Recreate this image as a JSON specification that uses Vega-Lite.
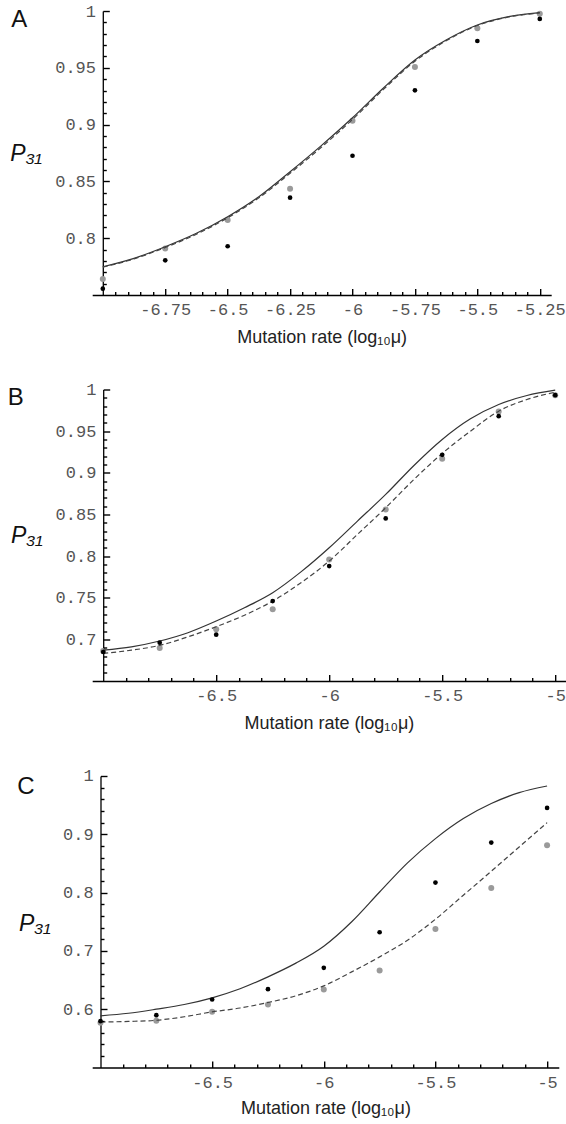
{
  "$schema": "https://vega.github.io/schema/vega-lite/v6.json",
  "padding": {"left": 7.2, "top": 2, "right": 0, "bottom": 0},
  "spacing": 94.5,
  "bounds": "flush",
  "config": {
    "view": {"stroke": null},
    "axis": {"grid": false, "domainColor": "#000", "domainWidth": 1.3, "tickColor": "#000", "tickWidth": 1.4, "labelFont": "Liberation Mono", "labelFontSize": 17, "labelColor": "#555", "labelOverlap": false, "labelFlush": false, "labelBound": false, "labelAngle": 0, "titleFont": "Liberation Sans", "titleFontWeight": "normal", "titleColor": "#222"},
    "title": {"anchor": "start", "frame": "group", "offset": 0, "baseline": "alphabetic", "fontSize": 24, "font": "Liberation Sans", "fontWeight": "normal", "color": "#111"}
  },
  "datasets": {
    "A": [
      {"s": "gray", "x": -7, "y": 0.764}, {"s": "gray", "x": -6.75, "y": 0.791}, {"s": "gray", "x": -6.5, "y": 0.816}, {"s": "gray", "x": -6.25, "y": 0.8436}, {"s": "gray", "x": -6, "y": 0.9034}, {"s": "gray", "x": -5.75, "y": 0.9507}, {"s": "gray", "x": -5.5, "y": 0.9848}, {"s": "gray", "x": -5.25, "y": 0.9976},
      {"s": "black", "x": -7, "y": 0.7556}, {"s": "black", "x": -6.75, "y": 0.7805}, {"s": "black", "x": -6.5, "y": 0.7929}, {"s": "black", "x": -6.25, "y": 0.8357}, {"s": "black", "x": -6, "y": 0.8726}, {"s": "black", "x": -5.75, "y": 0.9302}, {"s": "black", "x": -5.5, "y": 0.9736}, {"s": "black", "x": -5.25, "y": 0.993},
      {"s": "solid", "x": -7, "y": 0.7749}, {"s": "solid", "x": -6.875, "y": 0.7823}, {"s": "solid", "x": -6.75, "y": 0.7925}, {"s": "solid", "x": -6.625, "y": 0.8043}, {"s": "solid", "x": -6.5, "y": 0.8189}, {"s": "solid", "x": -6.375, "y": 0.8365}, {"s": "solid", "x": -6.25, "y": 0.8585}, {"s": "solid", "x": -6.125, "y": 0.8815}, {"s": "solid", "x": -6, "y": 0.906}, {"s": "solid", "x": -5.875, "y": 0.9325}, {"s": "solid", "x": -5.75, "y": 0.9569}, {"s": "solid", "x": -5.625, "y": 0.9745}, {"s": "solid", "x": -5.5, "y": 0.9877}, {"s": "solid", "x": -5.375, "y": 0.995}, {"s": "solid", "x": -5.25, "y": 0.9985},
      {"s": "dashed", "x": -7, "y": 0.7745}, {"s": "dashed", "x": -6.875, "y": 0.7818}, {"s": "dashed", "x": -6.75, "y": 0.7918}, {"s": "dashed", "x": -6.625, "y": 0.8035}, {"s": "dashed", "x": -6.5, "y": 0.818}, {"s": "dashed", "x": -6.375, "y": 0.8355}, {"s": "dashed", "x": -6.25, "y": 0.8572}, {"s": "dashed", "x": -6.125, "y": 0.88}, {"s": "dashed", "x": -6, "y": 0.9045}, {"s": "dashed", "x": -5.875, "y": 0.9312}, {"s": "dashed", "x": -5.75, "y": 0.9558}, {"s": "dashed", "x": -5.625, "y": 0.9738}, {"s": "dashed", "x": -5.5, "y": 0.9872}, {"s": "dashed", "x": -5.375, "y": 0.9947}, {"s": "dashed", "x": -5.25, "y": 0.9983}
    ],
    "B": [
      {"s": "gray", "x": -7, "y": 0.686}, {"s": "gray", "x": -6.75, "y": 0.6896}, {"s": "gray", "x": -6.5, "y": 0.712}, {"s": "gray", "x": -6.25, "y": 0.736}, {"s": "gray", "x": -6, "y": 0.796}, {"s": "gray", "x": -5.75, "y": 0.856}, {"s": "gray", "x": -5.5, "y": 0.9168}, {"s": "gray", "x": -5.25, "y": 0.9736}, {"s": "gray", "x": -5, "y": 0.9932},
      {"s": "black", "x": -7, "y": 0.6848}, {"s": "black", "x": -6.75, "y": 0.696}, {"s": "black", "x": -6.5, "y": 0.7056}, {"s": "black", "x": -6.25, "y": 0.746}, {"s": "black", "x": -6, "y": 0.788}, {"s": "black", "x": -5.75, "y": 0.8452}, {"s": "black", "x": -5.5, "y": 0.9216}, {"s": "black", "x": -5.25, "y": 0.968}, {"s": "black", "x": -5, "y": 0.9932},
      {"s": "solid", "x": -7, "y": 0.687}, {"s": "solid", "x": -6.875, "y": 0.691}, {"s": "solid", "x": -6.75, "y": 0.698}, {"s": "solid", "x": -6.625, "y": 0.708}, {"s": "solid", "x": -6.5, "y": 0.722}, {"s": "solid", "x": -6.375, "y": 0.738}, {"s": "solid", "x": -6.25, "y": 0.756}, {"s": "solid", "x": -6.125, "y": 0.781}, {"s": "solid", "x": -6, "y": 0.81}, {"s": "solid", "x": -5.875, "y": 0.842}, {"s": "solid", "x": -5.75, "y": 0.874}, {"s": "solid", "x": -5.625, "y": 0.9088}, {"s": "solid", "x": -5.5, "y": 0.94}, {"s": "solid", "x": -5.375, "y": 0.9648}, {"s": "solid", "x": -5.25, "y": 0.982}, {"s": "solid", "x": -5.125, "y": 0.9928}, {"s": "solid", "x": -5, "y": 0.9992},
      {"s": "dashed", "x": -7, "y": 0.6832}, {"s": "dashed", "x": -6.875, "y": 0.687}, {"s": "dashed", "x": -6.75, "y": 0.6928}, {"s": "dashed", "x": -6.625, "y": 0.703}, {"s": "dashed", "x": -6.5, "y": 0.7152}, {"s": "dashed", "x": -6.375, "y": 0.729}, {"s": "dashed", "x": -6.25, "y": 0.746}, {"s": "dashed", "x": -6.125, "y": 0.768}, {"s": "dashed", "x": -6, "y": 0.794}, {"s": "dashed", "x": -5.875, "y": 0.826}, {"s": "dashed", "x": -5.75, "y": 0.858}, {"s": "dashed", "x": -5.625, "y": 0.892}, {"s": "dashed", "x": -5.5, "y": 0.9232}, {"s": "dashed", "x": -5.375, "y": 0.95}, {"s": "dashed", "x": -5.25, "y": 0.974}, {"s": "dashed", "x": -5.125, "y": 0.988}, {"s": "dashed", "x": -5, "y": 0.9968}
    ],
    "C": [
      {"s": "gray", "x": -7, "y": 0.5766}, {"s": "gray", "x": -6.75, "y": 0.58}, {"s": "gray", "x": -6.5, "y": 0.5954}, {"s": "gray", "x": -6.25, "y": 0.608}, {"s": "gray", "x": -6, "y": 0.6338}, {"s": "gray", "x": -5.75, "y": 0.6664}, {"s": "gray", "x": -5.5, "y": 0.7377}, {"s": "gray", "x": -5.25, "y": 0.808}, {"s": "gray", "x": -5, "y": 0.8812},
      {"s": "black", "x": -7, "y": 0.5795}, {"s": "black", "x": -6.75, "y": 0.5897}, {"s": "black", "x": -6.5, "y": 0.6166}, {"s": "black", "x": -6.25, "y": 0.6343}, {"s": "black", "x": -6, "y": 0.671}, {"s": "black", "x": -5.75, "y": 0.732}, {"s": "black", "x": -5.5, "y": 0.8172}, {"s": "black", "x": -5.25, "y": 0.8858}, {"s": "black", "x": -5, "y": 0.9452},
      {"s": "solid", "x": -7, "y": 0.5886}, {"s": "solid", "x": -6.875, "y": 0.593}, {"s": "solid", "x": -6.75, "y": 0.6}, {"s": "solid", "x": -6.625, "y": 0.608}, {"s": "solid", "x": -6.5, "y": 0.6195}, {"s": "solid", "x": -6.375, "y": 0.635}, {"s": "solid", "x": -6.25, "y": 0.6555}, {"s": "solid", "x": -6.125, "y": 0.679}, {"s": "solid", "x": -6, "y": 0.708}, {"s": "solid", "x": -5.875, "y": 0.75}, {"s": "solid", "x": -5.75, "y": 0.801}, {"s": "solid", "x": -5.625, "y": 0.851}, {"s": "solid", "x": -5.5, "y": 0.8926}, {"s": "solid", "x": -5.375, "y": 0.927}, {"s": "solid", "x": -5.25, "y": 0.9527}, {"s": "solid", "x": -5.125, "y": 0.9715}, {"s": "solid", "x": -5, "y": 0.9829},
      {"s": "dashed", "x": -7, "y": 0.578}, {"s": "dashed", "x": -6.875, "y": 0.579}, {"s": "dashed", "x": -6.75, "y": 0.581}, {"s": "dashed", "x": -6.625, "y": 0.587}, {"s": "dashed", "x": -6.5, "y": 0.5954}, {"s": "dashed", "x": -6.375, "y": 0.602}, {"s": "dashed", "x": -6.25, "y": 0.6115}, {"s": "dashed", "x": -6.125, "y": 0.623}, {"s": "dashed", "x": -6, "y": 0.64}, {"s": "dashed", "x": -5.875, "y": 0.664}, {"s": "dashed", "x": -5.75, "y": 0.6897}, {"s": "dashed", "x": -5.625, "y": 0.7183}, {"s": "dashed", "x": -5.5, "y": 0.7543}, {"s": "dashed", "x": -5.375, "y": 0.7955}, {"s": "dashed", "x": -5.25, "y": 0.8366}, {"s": "dashed", "x": -5.125, "y": 0.8783}, {"s": "dashed", "x": -5, "y": 0.92}
    ]
  },
  "vconcat": [
    {
      "width": 459, "height": 284,
      "data": {"name": "A"},
      "title": {"text": "A", "dx": -81, "dy": 34},
      "resolve": {"axis": {"x": "independent", "y": "independent"}},
      "layer": [
        {"transform": [{"filter": "datum.s === 'gray'"}], "mark": {"type": "circle", "color": "#9a9a9a", "size": 36, "opacity": 1},
          "encoding": {
            "x": {"field": "x", "type": "quantitative", "scale": {"domain": [-7.0425, -5.2043], "nice": false, "zero": false},
              "axis": {"orient": "bottom", "ticks": false, "values": [-6.75, -6.5, -6.25, -6, -5.75, -5.5, -5.25], "labelExpr": "'' + datum.value", "labelPadding": 6.7,
                "title": "Mutation rate (log₁₀μ)", "titleFontSize": 18, "titleBaseline": "alphabetic", "titleY": 47.7}},
            "y": {"field": "y", "type": "quantitative", "scale": {"domain": [0.75, 1], "nice": false, "zero": false},
              "axis": {"orient": "left", "ticks": false, "values": [0.8, 0.85, 0.9, 0.95, 1], "labelExpr": "'' + datum.value", "labelPadding": 7.3, "offset": -10.6,
                "title": "P₃₁", "titleFontSize": 23, "titleFontStyle": "italic", "titleAngle": 0, "titleAlign": "left", "titleBaseline": "alphabetic", "titleX": -93, "titleY": 149, "titleColor": "#111"}}
          }},
        {"transform": [{"filter": "datum.s === 'solid'"}], "mark": {"type": "line", "color": "#333", "strokeWidth": 1.2, "interpolate": "monotone"},
          "encoding": {
            "x": {"field": "x", "type": "quantitative", "axis": {"orient": "top", "offset": -284, "ticks": true, "tickSize": 6.5, "labels": false, "domain": false, "title": null, "zindex": 2, "values": [-6.75, -6.5, -6.25, -6, -5.75, -5.5, -5.25]}},
            "y": {"field": "y", "type": "quantitative", "axis": {"orient": "right", "offset": -448.4, "ticks": true, "tickSize": 6.5, "labels": false, "domain": false, "title": null, "zindex": 2, "values": [0.8, 0.85, 0.9, 0.95, 1]}}
          }},
        {"transform": [{"filter": "datum.s === 'dashed'"}], "mark": {"type": "line", "color": "#444", "strokeWidth": 1.2, "strokeDash": [5, 3], "interpolate": "monotone"},
          "encoding": {
            "x": {"field": "x", "type": "quantitative", "axis": {"orient": "top", "offset": -284, "ticks": true, "tickSize": 3.5, "labels": false, "domain": false, "title": null, "zindex": 2, "values": [-6.95,-6.9,-6.85,-6.8,-6.7,-6.65,-6.6,-6.55,-6.45,-6.4,-6.35,-6.3,-6.2,-6.15,-6.1,-6.05,-5.95,-5.9,-5.85,-5.8,-5.7,-5.65,-5.6,-5.55,-5.45,-5.4,-5.35,-5.3]}},
            "y": {"field": "y", "type": "quantitative", "axis": {"orient": "right", "offset": -448.4, "ticks": true, "tickSize": 3.5, "labels": false, "domain": false, "title": null, "zindex": 2, "values": [0.76,0.77,0.78,0.79,0.81,0.82,0.83,0.84,0.86,0.87,0.88,0.89,0.91,0.92,0.93,0.94,0.96,0.97,0.98,0.99]}}
          }},
        {"transform": [{"filter": "datum.s === 'black'"}], "mark": {"type": "circle", "color": "#000", "size": 22, "opacity": 1},
          "encoding": {
            "x": {"field": "x", "type": "quantitative", "axis": null},
            "y": {"field": "y", "type": "quantitative", "axis": null}
          }}
      ]
    },
    {
      "width": 473.3, "height": 291.5,
      "data": {"name": "B"},
      "title": {"text": "B", "dx": -84.5, "dy": 33.3},
      "resolve": {"axis": {"x": "independent", "y": "independent"}},
      "layer": [
        {"transform": [{"filter": "datum.s === 'gray'"}], "mark": {"type": "circle", "color": "#9a9a9a", "size": 36, "opacity": 1},
          "encoding": {
            "x": {"field": "x", "type": "quantitative", "scale": {"domain": [-7.0487, -4.9545], "nice": false, "zero": false},
              "axis": {"orient": "bottom", "ticks": false, "values": [-6.5, -6, -5.5, -5], "labelExpr": "'' + datum.value", "labelPadding": 6.7,
                "title": "Mutation rate (log₁₀μ)", "titleFontSize": 18, "titleBaseline": "alphabetic", "titleY": 47.7}},
            "y": {"field": "y", "type": "quantitative", "scale": {"domain": [0.65, 1], "nice": false, "zero": false},
              "axis": {"orient": "left", "ticks": false, "values": [0.7, 0.75, 0.8, 0.85, 0.9, 0.95, 1], "labelExpr": "'' + datum.value", "labelPadding": 7.3, "offset": -11,
                "title": "P₃₁", "titleFontSize": 23, "titleFontStyle": "italic", "titleAngle": 0, "titleAlign": "left", "titleBaseline": "alphabetic", "titleX": -92.7, "titleY": 153.3, "titleColor": "#111"}}
          }},
        {"transform": [{"filter": "datum.s === 'solid'"}], "mark": {"type": "line", "color": "#333", "strokeWidth": 1.2, "interpolate": "monotone"},
          "encoding": {
            "x": {"field": "x", "type": "quantitative", "axis": {"orient": "top", "offset": -291.5, "ticks": true, "tickSize": 6.5, "labels": false, "domain": false, "title": null, "zindex": 2, "values": [-6.5, -6, -5.5, -5]}},
            "y": {"field": "y", "type": "quantitative", "axis": {"orient": "right", "offset": -462.3, "ticks": true, "tickSize": 6.5, "labels": false, "domain": false, "title": null, "zindex": 2, "values": [0.7, 0.75, 0.8, 0.85, 0.9, 0.95, 1]}}
          }},
        {"transform": [{"filter": "datum.s === 'dashed'"}], "mark": {"type": "line", "color": "#444", "strokeWidth": 1.2, "strokeDash": [5, 3], "interpolate": "monotone"},
          "encoding": {
            "x": {"field": "x", "type": "quantitative", "axis": {"orient": "top", "offset": -291.5, "ticks": true, "tickSize": 3.5, "labels": false, "domain": false, "title": null, "zindex": 2, "values": [-6.9,-6.8,-6.7,-6.6,-6.4,-6.3,-6.2,-6.1,-5.9,-5.8,-5.7,-5.6,-5.4,-5.3,-5.2,-5.1]}},
            "y": {"field": "y", "type": "quantitative", "axis": {"orient": "right", "offset": -462.3, "ticks": true, "tickSize": 3.5, "labels": false, "domain": false, "title": null, "zindex": 2, "values": [0.66,0.67,0.68,0.69,0.71,0.72,0.73,0.74,0.76,0.77,0.78,0.79,0.81,0.82,0.83,0.84,0.86,0.87,0.88,0.89,0.91,0.92,0.93,0.94,0.96,0.97,0.98,0.99]}}
          }},
        {"transform": [{"filter": "datum.s === 'black'"}], "mark": {"type": "circle", "color": "#000", "size": 22, "opacity": 1},
          "encoding": {
            "x": {"field": "x", "type": "quantitative", "axis": null},
            "y": {"field": "y", "type": "quantitative", "axis": null}
          }}
      ]
    },
    {
      "width": 466.6, "height": 291.5,
      "data": {"name": "C"},
      "title": {"text": "C", "dx": -75, "dy": 36},
      "resolve": {"axis": {"x": "independent", "y": "independent"}},
      "layer": [
        {"transform": [{"filter": "datum.s === 'gray'"}], "mark": {"type": "circle", "color": "#9a9a9a", "size": 36, "opacity": 1},
          "encoding": {
            "x": {"field": "x", "type": "quantitative", "scale": {"domain": [-7.0372, -4.9476], "nice": false, "zero": false},
              "axis": {"orient": "bottom", "ticks": false, "values": [-6.5, -6, -5.5, -5], "labelExpr": "'' + datum.value", "labelPadding": 6.7,
                "title": "Mutation rate (log₁₀μ)", "titleFontSize": 18, "titleBaseline": "alphabetic", "titleY": 46}},
            "y": {"field": "y", "type": "quantitative", "scale": {"domain": [0.5, 1], "nice": false, "zero": false},
              "axis": {"orient": "left", "ticks": false, "values": [0.6, 0.7, 0.8, 0.9, 1], "labelExpr": "'' + datum.value", "labelPadding": 7.3, "offset": -8.3,
                "title": "P₃₁", "titleFontSize": 23, "titleFontStyle": "italic", "titleAngle": 0, "titleAlign": "left", "titleBaseline": "alphabetic", "titleX": -82, "titleY": 154.5, "titleColor": "#111"}}
          }},
        {"transform": [{"filter": "datum.s === 'solid'"}], "mark": {"type": "line", "color": "#333", "strokeWidth": 1.2, "interpolate": "monotone"},
          "encoding": {
            "x": {"field": "x", "type": "quantitative", "axis": {"orient": "top", "offset": -291.5, "ticks": true, "tickSize": 6.5, "labels": false, "domain": false, "title": null, "zindex": 2, "values": [-6.5, -6, -5.5, -5]}},
            "y": {"field": "y", "type": "quantitative", "axis": {"orient": "right", "offset": -458.3, "ticks": true, "tickSize": 6.5, "labels": false, "domain": false, "title": null, "zindex": 2, "values": [0.6, 0.7, 0.8, 0.9, 1]}}
          }},
        {"transform": [{"filter": "datum.s === 'dashed'"}], "mark": {"type": "line", "color": "#444", "strokeWidth": 1.2, "strokeDash": [5, 3], "interpolate": "monotone"},
          "encoding": {
            "x": {"field": "x", "type": "quantitative", "axis": {"orient": "top", "offset": -291.5, "ticks": true, "tickSize": 3.5, "labels": false, "domain": false, "title": null, "zindex": 2, "values": [-6.9,-6.8,-6.7,-6.6,-6.4,-6.3,-6.2,-6.1,-5.9,-5.8,-5.7,-5.6,-5.4,-5.3,-5.2,-5.1]}},
            "y": {"field": "y", "type": "quantitative", "axis": {"orient": "right", "offset": -458.3, "ticks": true, "tickSize": 3.5, "labels": false, "domain": false, "title": null, "zindex": 2, "values": [0.52,0.54,0.56,0.58,0.62,0.64,0.66,0.68,0.72,0.74,0.76,0.78,0.82,0.84,0.86,0.88,0.92,0.94,0.96,0.98]}}
          }},
        {"transform": [{"filter": "datum.s === 'black'"}], "mark": {"type": "circle", "color": "#000", "size": 22, "opacity": 1},
          "encoding": {
            "x": {"field": "x", "type": "quantitative", "axis": null},
            "y": {"field": "y", "type": "quantitative", "axis": null}
          }}
      ]
    }
  ]
}
